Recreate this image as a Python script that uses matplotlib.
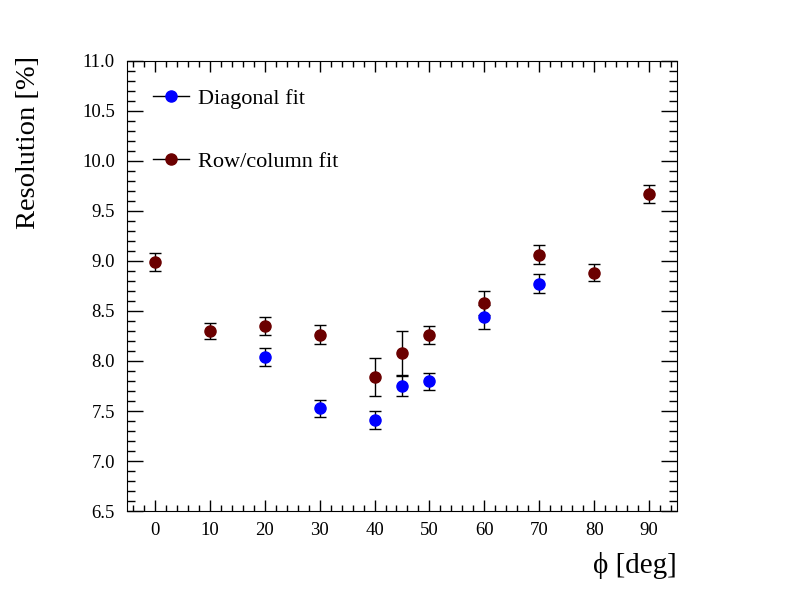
import matplotlib
matplotlib.use('Agg')
import matplotlib.pyplot as plt
from matplotlib.lines import Line2D
from matplotlib.ticker import MultipleLocator, FormatStrFormatter

plt.rcParams['font.family'] = ['Liberation Serif', 'DejaVu Serif']

# data
phi_row = [0, 10, 20, 30, 40, 45, 50, 60, 70, 80, 90]
res_row = [8.99, 8.30, 8.35, 8.26, 7.84, 8.08, 8.26, 8.58, 9.06, 8.88, 9.67]
err_row = [0.09, 0.08, 0.09, 0.095, 0.19, 0.22, 0.09, 0.12, 0.095, 0.085, 0.09]

phi_diag = [20, 30, 40, 45, 50, 60, 70]
res_diag = [8.04, 7.53, 7.41, 7.75, 7.80, 8.44, 8.77]
err_diag = [0.09, 0.085, 0.09, 0.10, 0.085, 0.12, 0.095]

fig = plt.figure(figsize=(7.96, 6.02), dpi=100)
ax = fig.add_axes([0.16, 0.151, 0.69, 0.748])

ax.errorbar(phi_diag, res_diag, yerr=err_diag, fmt='o', color='blue', ms=8,
            ecolor='black', elinewidth=1, capsize=4, capthick=1, zorder=3)
ax.errorbar(phi_row, res_row, yerr=err_row, fmt='o', color='#6b0000', ms=8,
            ecolor='black', elinewidth=1, capsize=4, capthick=1, zorder=3)

ax.set_xlim(-5, 95)
ax.set_ylim(6.5, 11.0)
ax.xaxis.set_major_locator(MultipleLocator(10))
ax.xaxis.set_minor_locator(MultipleLocator(2))
ax.yaxis.set_major_locator(MultipleLocator(0.5))
ax.yaxis.set_minor_locator(MultipleLocator(0.1))
ax.yaxis.set_major_formatter(FormatStrFormatter('%.1f'))

ax.tick_params(axis='both', which='both', direction='in', top=True, right=True,
               labelsize=13.5, width=1)
ax.tick_params(axis='x', which='major', length=8, pad=8)
ax.tick_params(axis='x', which='minor', length=4)
ax.tick_params(axis='y', which='major', length=11.5, pad=9)
ax.tick_params(axis='y', which='minor', length=5.8)

ax.set_xlabel('\u03d5 [deg]', fontsize=21, loc='right', labelpad=9)
ax.set_ylabel('Resolution [%]', fontsize=20.5, loc='top')
ax.yaxis.set_label_coords(-0.157, 1.01)

handles = [
    Line2D([], [], color='black', lw=1, marker='o', ms=8,
           markerfacecolor='blue', markeredgecolor='blue'),
    Line2D([], [], color='black', lw=1, marker='o', ms=8,
           markerfacecolor='#6b0000', markeredgecolor='#6b0000'),
]
ax.legend(handles, ['Diagonal fit', 'Row/column fit'], loc='upper left',
          bbox_to_anchor=(0.011, 0.983), frameon=False, fontsize=16,
          labelspacing=1.9, handlelength=1.62, handletextpad=0.4)

fig.savefig('out.png', dpi=100)
